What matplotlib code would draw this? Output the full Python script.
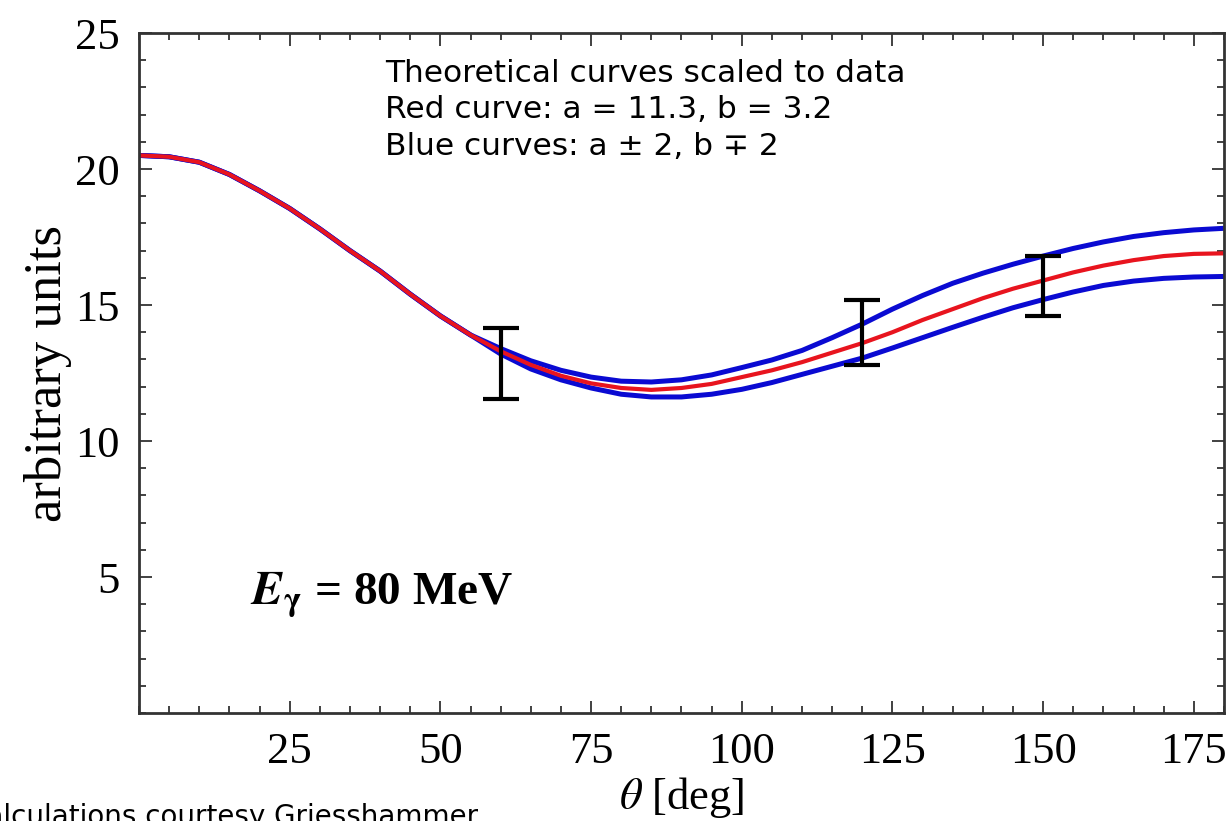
import matplotlib
matplotlib.use('Agg')
from matplotlib import pyplot as plt
from matplotlib.ticker import MultipleLocator

# values (every 5 degrees)
theta = [0, 5, 10, 15, 20, 25, 30, 35, 40, 45, 50, 55, 60, 65, 70, 75, 80, 85, 90,
         95, 100, 105, 110, 115, 120, 125, 130, 135, 140, 145, 150, 155, 160, 165, 170, 175, 180]
common = [20.5, 20.45, 20.25, 19.8, 19.2, 18.55, 17.8, 17.0, 16.25, 15.4, 14.6, 13.9]
blue_upper = common + [13.4, 12.95, 12.6, 12.35, 12.2, 12.17, 12.25, 12.43, 12.7, 12.98, 13.33, 13.8,
                       14.3, 14.85, 15.35, 15.8, 16.17, 16.5, 16.8, 17.08, 17.32, 17.52, 17.66, 17.76, 17.82]
red_curve = common + [13.3, 12.8, 12.4, 12.12, 11.95, 11.88, 11.95, 12.1, 12.35, 12.6, 12.9, 13.25,
                      13.6, 14.0, 14.45, 14.85, 15.25, 15.6, 15.9, 16.2, 16.45, 16.65, 16.8, 16.88, 16.9]
blue_lower = common + [13.2, 12.65, 12.25, 11.95, 11.72, 11.62, 11.62, 11.72, 11.9, 12.15, 12.45, 12.75,
                       13.05, 13.42, 13.8, 14.18, 14.55, 14.9, 15.2, 15.48, 15.72, 15.88, 15.98, 16.03, 16.05]

data_theta = [60, 120, 150]
data_value = [12.85, 14.0, 15.7]
data_err = [1.3, 1.2, 1.1]

plt.rcParams['mathtext.fontset'] = 'stix'
serif = 'Liberation Serif'

fig = plt.figure(figsize=(12.32, 8.21), dpi=100)
ax = fig.add_axes([0.1128, 0.1315, 0.8807, 0.8283])

ax.plot(theta, blue_upper, color='#0a0ad2', lw=3.6, solid_capstyle='butt')
ax.plot(theta, blue_lower, color='#0a0ad2', lw=3.6, solid_capstyle='butt')
ax.plot(theta, red_curve, color='#e8141e', lw=3.0, solid_capstyle='butt')
ax.errorbar(data_theta, data_value, yerr=data_err, fmt='none', ecolor='black',
            elinewidth=3.0, capsize=13, capthick=3.0, zorder=5)

ax.set_xlim(0, 180)
ax.set_ylim(0, 25)
ax.set_xticks([25, 50, 75, 100, 125, 150, 175])
ax.set_yticks([5, 10, 15, 20, 25])
ax.xaxis.set_minor_locator(MultipleLocator(5))
ax.yaxis.set_minor_locator(MultipleLocator(1))
ax.tick_params(which='both', direction='in', top=True, right=True, color='#333333', width=1.3)
ax.tick_params(which='major', length=9, labelsize=32, pad=14)
ax.tick_params(which='minor', length=5)
for lab in ax.get_xticklabels() + ax.get_yticklabels():
    lab.set_family(serif)
for s in ax.spines.values():
    s.set_linewidth(2)
    s.set_color('#333333')

ax.set_ylabel('arbitrary units', family=serif, fontsize=38, labelpad=2)
ax.set_xlabel(r'$\theta$ [deg]', family=serif, fontsize=32, labelpad=2)

fig.text(385 / 1232, 1 - 59 / 821, 'Theoretical curves scaled to data\nRed curve: a = 11.3, b = 3.2\nBlue curves: a \u00b1 2, b \u2213 2',
         family='DejaVu Sans', fontsize=22.5, va='top', ha='left', linespacing=1.32)

ax.text(18.5, 3.97, r'$\mathbfit{E}_{\mathbf{\gamma}}$ = 80 MeV', family=serif, fontsize=34,
        fontweight='bold', ha='left', va='baseline')

fig.text(-33 / 1232, -4 / 821, 'Calculations courtesy Griesshammer', family='DejaVu Sans',
         fontsize=20, ha='left', va='baseline')

fig.savefig('out.png', dpi=100)
